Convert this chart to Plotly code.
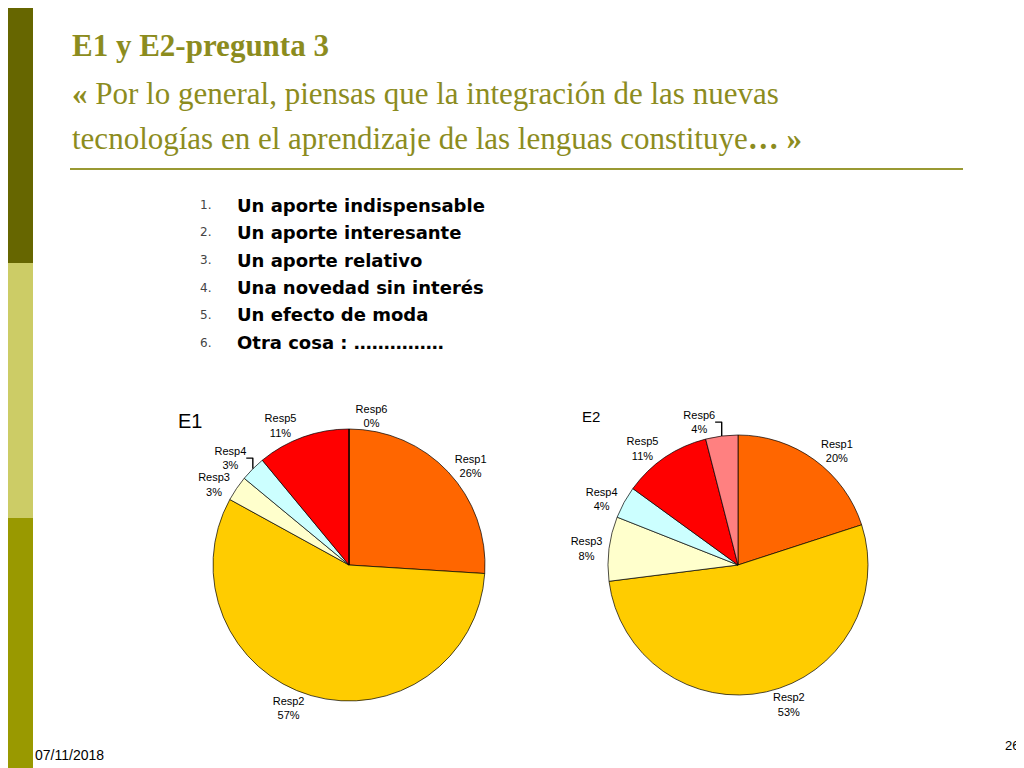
import plotly.graph_objects as go

labels = ["Resp1", "Resp2", "Resp3", "Resp4", "Resp5", "Resp6"]
e1_values = [26, 57, 3, 3, 11, 0]
e2_values = [20, 53, 8, 4, 11, 4]
colors = ["#FF6600", "#FFCC00", "#FFFFCC", "#CCFFFF", "#FF0000", "#FF8080"]
options = ["Un aporte indispensable", "Un aporte interesante", "Un aporte relativo",
           "Una novedad sin interés", "Un efecto de moda", "Otra cosa : ……………"]

W, H = 1024, 768
fig = go.Figure()

def pie(vals, cx, cy, r):
    fig.add_trace(go.Pie(
        labels=labels, values=vals, sort=False, direction="clockwise", rotation=0,
        marker=dict(colors=colors, line=dict(color="black", width=0.7)),
        text=[f"{l}<br>{v}%" for l, v in zip(labels, vals)],
        textinfo="text", textposition="outside",
        textfont=dict(family="Arial", size=11, color="black"),
        domain=dict(x=[(cx - r) / W, (cx + r) / W], y=[1 - (cy + r) / H, 1 - (cy - r) / H]),
        showlegend=False, hoverinfo="skip"))

pie(e1_values, 341, 557, 136)
pie(e2_values, 730, 557, 130)

shapes = [
    dict(type="rect", xref="paper", yref="paper", x0=0, x1=25/W, y0=1-255/H, y1=1, fillcolor="#666600", line_width=0),
    dict(type="rect", xref="paper", yref="paper", x0=0, x1=25/W, y0=1-510/H, y1=1-255/H, fillcolor="#CCCC66", line_width=0),
    dict(type="rect", xref="paper", yref="paper", x0=0, x1=25/W, y0=0, y1=1-510/H, fillcolor="#999900", line_width=0),
    dict(type="line", xref="paper", yref="paper", x0=62/W, x1=955/W, y0=1-161/H, y1=1-161/H, line=dict(color="#999933", width=2)),
]

ann = []
def txt(x, y, s, size, family="Arial", color="black", anchor="left"):
    ann.append(dict(x=x/W, y=1-y/H, xref="paper", yref="paper", text=s, showarrow=False,
                    xanchor=anchor, yanchor="middle", font=dict(family=family, size=size, color=color)))

tc = "#8C8C1E"
txt(62, 38, "<b>E1 y E2-pregunta 3</b>", 31, "Liberation Serif", tc)
txt(62, 86, "<b>«</b> Por lo general, piensas que la integración de las nuevas", 31, "Liberation Serif", tc)
txt(62, 131, "tecnologías en el aprendizaje de las lenguas constituye<b>… »</b>", 31, "Liberation Serif", tc)
for i, o in enumerate(options):
    y = 197 + i * 27.5
    txt(205, y, f"{i+1}.", 12, "DejaVu Sans", "#444444", "right")
    txt(227, y, f"<b>{o}</b>", 18, "DejaVu Sans")
txt(168, 413, "E1", 20)
txt(572, 408, "E2", 15)
txt(25, 747, "07/11/2018", 14)
txt(1013, 737, "26", 13, anchor="right")

fig.update_layout(width=W, height=H, margin=dict(l=0, r=0, t=0, b=0),
                  paper_bgcolor="white", shapes=shapes, annotations=ann)
fig.write_html("out.html")
